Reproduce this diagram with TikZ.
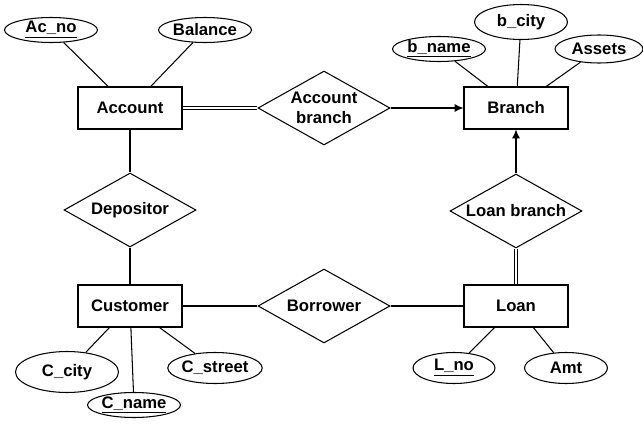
\documentclass[tikz,border=0pt]{standalone}
\usepackage{fontspec}
\setmainfont{Liberation Sans}
\usetikzlibrary{shapes.geometric,arrows.meta}

\begin{document}
\begin{tikzpicture}[x=0.02cm,y=-0.02cm,
    font=\fontsize{9.5}{11}\selectfont\bfseries,
    line width=0.6pt,
    entity/.style={draw,rectangle,minimum width=2.08cm,minimum height=0.84cm},
    rel/.style={draw,diamond,shape aspect=1.78,inner sep=0pt,minimum width=2.64cm,minimum height=1.48cm,align=center},
    attr/.style={draw,ellipse,inner sep=0pt,minimum width=1.86cm,minimum height=0.5cm},
    total/.style={double,double distance=1.3pt},
    >={Latex[length=5pt,width=4.5pt]}]
            \useasboundingbox (0,0) rectangle (643,426);

            \node [attr] (acno) at (51,30) {\underline{Ac\_no}};
            \node [attr] (balance) at (205,30) {Balance};
            \node [entity] (account) at (130,108) {Account};
            \node [rel] (accbr) at (324,108) {Account\\branch};
            \node [entity] (branch) at (516,108) {Branch};
            \node [attr] (bname) at (439,49) {\underline{b\_name}};
            \node [attr,minimum height=0.7cm] (bcity) at (521,22) {b\_city};
            \node [attr,minimum width=1.76cm,minimum height=0.56cm] (assets) at (599,49) {Assets};

            \node [rel] (depositor) at (130,210) {Depositor};
            \node [rel] (loanbr) at (516,211) {Loan branch};

            \node [entity] (customer) at (130,306) {Customer};
            \node [rel] (borrower) at (324,306) {Borrower};
            \node [entity] (loan) at (516,306) {Loan};
            \node [attr,minimum width=2.06cm,minimum height=0.82cm] (ccity) at (67,372) {C\_city};
            \node [attr] (cname) at (134,405) {\underline{C\_name}};
            \node [attr,minimum height=0.62cm] (cstreet) at (215,368) {C\_street};
            \node [attr,minimum width=1.64cm,minimum height=0.62cm] (lno) at (454,368) {\underline{L\_no}};
            \node [attr,minimum width=1.66cm,minimum height=0.62cm] (amt) at (566,368) {Amt};

            \foreach \a/\e in {acno/account,balance/account,bname/branch,bcity/branch,assets/branch,
                ccity/customer,cname/customer,cstreet/customer,lno/loan,amt/loan} {
                \draw (\a) -- (\e);
            }

            \draw (account) -- (depositor) -- (customer);
            \draw (customer) -- (borrower) -- (loan);
            \draw [total] (account) -- (accbr);
            \draw [->] (accbr) -- (branch);
            \draw [total] (loan) -- (loanbr);
            \draw [->] (loanbr) -- (branch);
        \end{tikzpicture}
\end{document}
